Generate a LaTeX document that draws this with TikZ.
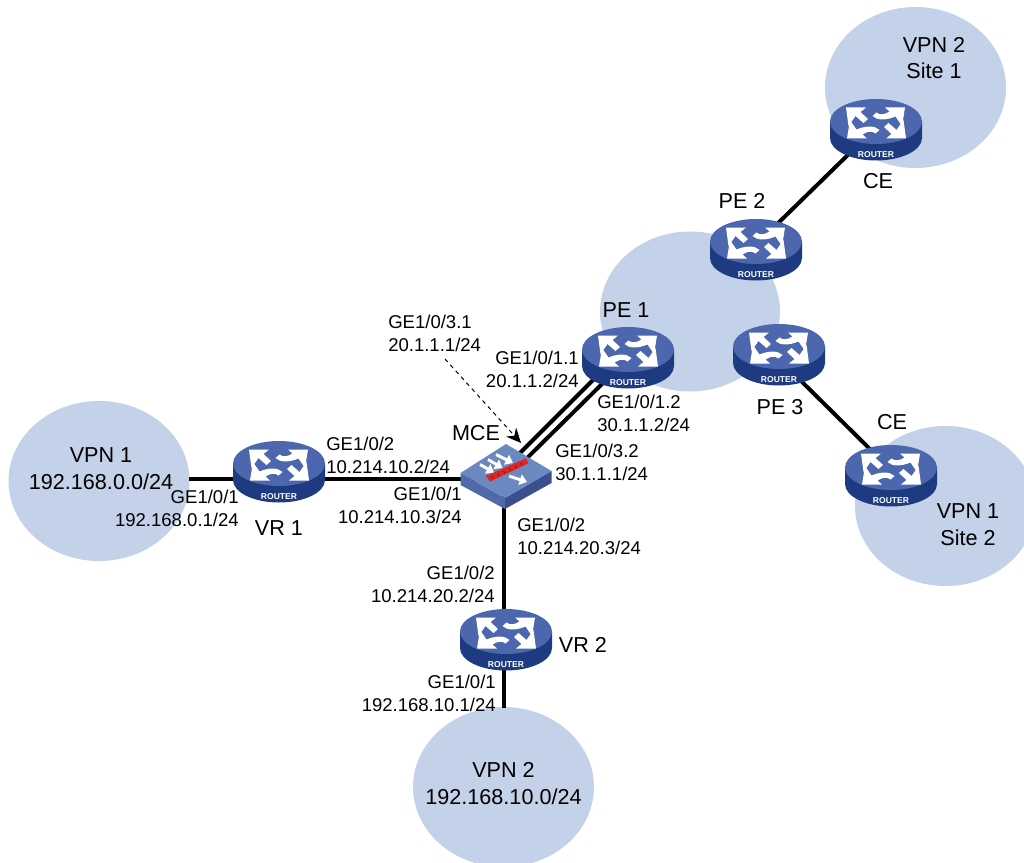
\documentclass[tikz,border=0pt]{standalone}
\usepackage{fontspec}
\setmainfont{Liberation Sans}
\usetikzlibrary{arrows.meta,shapes.geometric,calc}
\definecolor{cloudc}{HTML}{C3D1E9}
\definecolor{rtop}{HTML}{4C67AE}
\definecolor{rside}{HTML}{1E3A80}
\definecolor{swtop}{HTML}{6C88C0}
\definecolor{swleft}{HTML}{5069A8}
\definecolor{swright}{HTML}{3B4F8E}
\definecolor{swred}{HTML}{E0241F}
\tikzset{
 x=0.75pt,y=-0.75pt,
 cloudfill/.style={fill=cloudc,draw=none},
 anchorbox/.style={inner sep=0,outer sep=0,minimum width=68pt,minimum height=30pt,shape=rectangle},
 link/.style={line width=3pt,black},
 lbl/.style={font=\fontsize{13.9pt}{17.2pt}\selectfont,inner sep=0},
 big/.style={font=\fontsize{16.2pt}{20pt}\selectfont,align=center,inner sep=0},
 swarrow/.style={white,line width=2.2pt,-{Triangle[width=8pt,length=5.5pt]}},
}
\newcommand{\routerarrows}{%
 \fill[white] (-30,-22.5) -- (-10,-22.5) -- (-15.5,-18) -- (-8,-11) -- (-12.5,-7) -- (-20.5,-14) -- (-27.5,-4) -- cycle;
 \fill[white] (29,-22.5) -- (9,-22.5) -- (13.5,-18.5) .. controls (9,-15.5) and (4,-14.5) .. (0.5,-17.5) -- (-3.5,-14) .. controls (1,-9.5) and (10,-9.5) .. (19.5,-13.5) -- (26,-4) -- cycle;}
\newcommand{\routericon}[1]{%
\begin{scope}[shift={(#1.center)}]
 \fill[rside] (-46,-8.5) -- (-46,8) arc[start angle=180,end angle=0,x radius=46,y radius=22.5] -- (46,-8.5) -- cycle;
 \fill[rtop] (0,-8.5) ellipse[x radius=46,y radius=22.5];
 \routerarrows
 \begin{scope}[shift={(0,-14)},scale=-1]\routerarrows\end{scope}
 \node[text=white,inner sep=0,font=\bfseries\fontsize{6.4pt}{6.4pt}\selectfont] at (0,24.5) {ROUTER};
\end{scope}}
\begin{document}
\begin{tikzpicture}
\useasboundingbox (0,0) rectangle (1024,863);
\clip (0,0) rectangle (1024,863);
% clouds
\fill[cloudfill] (99,481) ellipse[x radius=90.5,y radius=80];
\fill[cloudfill] (915.5,87.5) ellipse[x radius=90.5,y radius=80.5];
\fill[cloudfill] (690,311.5) ellipse[x radius=90,y radius=80];
\fill[cloudfill] (945.5,506) ellipse[x radius=90.5,y radius=80];
\fill[cloudfill] (503.5,787) ellipse[x radius=90.5,y radius=80];
% device anchors
\node[anchorbox] (vr1) at (279,472) {};
\node[anchorbox] (vr2) at (506,640) {};
\node[anchorbox] (pe1) at (628,358) {};
\node[anchorbox] (pe2) at (756,250) {};
\node[anchorbox] (pe3) at (779,355) {};
\node[anchorbox] (ce1) at (876,130) {};
\node[anchorbox] (ce2) at (891,476) {};
\node[anchorbox] (mce) at (506,471) {};
\coordinate (vpn1edge) at (189,479);
\coordinate (vpn2edge) at (503.5,708);
% connectors
\draw[link] (vpn1edge) -- ([shift={(0,7)}]vr1.center);
\draw[link] ([shift={(0,7)}]vr1.center) -- ([shift={(-20,8)}]mce.center);
\draw[link] ([shift={(-2.5,0)}]mce.center) -- ([shift={(-2.5,0)}]vr2.center);
\draw[link] ([shift={(-2.5,0)}]vr2.center) -- (vpn2edge);
\draw[link] ([shift={(10,-14)}]mce.center) -- ([shift={(-30,17)}]pe1.center);
\draw[link] ([shift={(16,-8)}]mce.center) -- ([shift={(-24,24)}]pe1.center);
\draw[link] ([shift={(14,-19)}]pe2.center) -- ([shift={(-20,17)}]ce1.center);
\draw[link] ([shift={(14,18)}]pe3.center) -- ([shift={(-13,-19)}]ce2.center);
% icons
\foreach \n in {vr1,vr2,pe1,pe2,pe3,ce1,ce2}{\routericon{\n}}
\begin{scope}[shift={(mce.center)}]
 \fill[swleft] (-45.5,2) -- (-1,27) -- (-1,38) -- (-45.5,14) -- cycle;
 \fill[swright] (45.5,0) -- (-1,27) -- (-1,38) -- (45.5,12) -- cycle;
 \fill[swtop] (-45.5,2) -- (0,-27) -- (45.5,0) -- (-1,27) -- cycle;
 \draw[swarrow] (-26,-6.5) -- (-12,1.5);
 \draw[swarrow] (-18,-11.5) -- (-3.5,-3);
 \draw[swarrow] (-10,-16.5) -- (7,-8);
 \draw[swarrow] (3,5) -- (21,11);
 \fill[swred] (-20,5) -- (20,-12.7) -- (22.3,-7.7) -- (-16,10.7) -- cycle;
 \foreach \t in {0.1,0.25,0.4,0.55,0.7,0.85}{
  \draw[black!60!swred,line width=0.5pt] ($(-18,7)!\t!(21,-10.5)$) -- ++(1,2);}
\end{scope}
% dashed pointer
\coordinate (ptr) at (445,359);
\draw[dashed,line width=0.75pt,-{Stealth[length=11pt,width=10pt]}] (ptr) -- ([shift={(15,-28)}]mce.center);
% labels
\node[big] at (101,469) {VPN 1\\192.168.0.0/24};
\node[big] at (934,58) {VPN 2\\Site 1};
\node[big] at (968,525) {VPN 1\\Site 2};
\node[big] at (503.5,783.5) {VPN 2\\192.168.10.0/24};
\node[big] at (626,310) {PE 1};
\node[big] at (742,201) {PE 2};
\node[big] at (780,407) {PE 3};
\node[big] at (878,181.5) {CE};
\node[big] at (892,422) {CE};
\node[big] at (279,528) {VR 1};
\node[big] at (583,645) {VR 2};
\node[big] at (476,433.5) {MCE};
\node[lbl,anchor=west,align=left] at (388,333.5) {GE1/0/3.1\\20.1.1.1/24};
\node[lbl,anchor=east,align=right] at (579,369.5) {GE1/0/1.1\\20.1.1.2/24};
\node[lbl,anchor=west,align=left] at (597,413) {GE1/0/1.2\\30.1.1.2/24};
\node[lbl,anchor=west,align=left] at (555,462) {GE1/0/3.2\\30.1.1.1/24};
\node[lbl,anchor=west,align=left] at (326,455.5) {GE1/0/2\\10.214.10.2/24};
\node[lbl,anchor=east,align=right] at (462,505) {GE1/0/1\\10.214.10.3/24};
\node[lbl,anchor=west,align=left] at (517,536) {GE1/0/2\\10.214.20.3/24};
\node[lbl,anchor=east,align=right] at (495,584.5) {GE1/0/2\\10.214.20.2/24};
\node[lbl,anchor=east,align=right] at (496,693.5) {GE1/0/1\\192.168.10.1/24};
\node[lbl,anchor=east,align=right] at (239,508.5) {GE1/0/1\\192.168.0.1/24};
\end{tikzpicture}
\end{document}
